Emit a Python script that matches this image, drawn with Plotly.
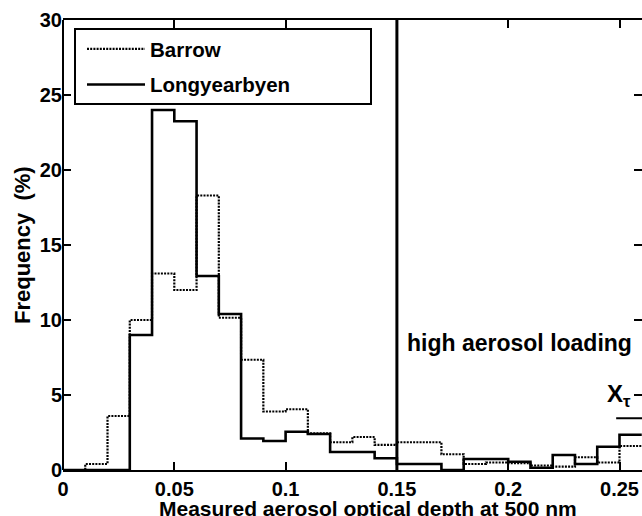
import plotly.graph_objects as go

bin_width = 0.01
bin_starts = [round(i * bin_width, 2) for i in range(26)]
barrow = [0, 0.4, 3.6, 10.0, 13.1, 12.0, 18.3, 10.15, 7.35, 3.9, 4.05, 2.45, 1.85, 2.2, 1.67,
          1.85, 1.85, 1.05, 0.4, 0.5, 0.45, 0.3, 0.22, 0.85, 0.5, 1.6]
longyearbyen = [0, 0, 0, 9.0, 24.0, 23.25, 12.93, 10.4, 2.1, 1.93, 2.55, 2.4, 1.2, 1.2, 0.78,
                0.4, 0.4, 0, 0.73, 0.73, 0.55, 0.15, 1.0, 0.4, 1.55, 2.35]
x_ticks = [0, 0.05, 0.1, 0.15, 0.2, 0.25]
x_tick_labels = ["0", "0.05", "0.1", "0.15", "0.2", "0.25"]
y_ticks = [0, 5, 10, 15, 20, 25, 30]
y_tick_labels = ["0", "5", "10", "15", "20", "25", "30"]
threshold = 0.15
x_tau_level = 3.45

FONT = "Liberation Sans"


def steps(starts, vals, w):
    xs = list(starts) + [starts[-1] + w]
    ys = list(vals) + [vals[-1]]
    return xs, ys


fig = go.Figure()
bx, by = steps(bin_starts, barrow, bin_width)
lx, ly = steps(bin_starts, longyearbyen, bin_width)
fig.add_trace(go.Scatter(x=bx, y=by, mode="lines", line_shape="hv", name="<b>Barrow</b>",
                         legendgroup="a",
                         line=dict(color="black", width=2.2, dash="2px,1.2px")))
fig.add_trace(go.Scatter(x=lx, y=ly, mode="lines", line_shape="hv", name="<b>Longyearbyen</b>",
                         legendgroup="b",
                         line=dict(color="black", width=2.6)))

W, H = 642, 516
ml, mr, mt, mb = 63, 0, 20, 46
pw = W - ml - mr
x_max = pw / 2226.0

fig.update_layout(
    width=W, height=H,
    margin=dict(l=ml, r=mr, t=mt, b=mb),
    paper_bgcolor="white", plot_bgcolor="white",
    font=dict(family=FONT, color="black", size=20),
    showlegend=True,
    legend=dict(x=(82 - ml) / pw, y=1 - (29 - mt) / 450.0, xanchor="left", yanchor="top",
                bgcolor="rgba(0,0,0,0)", borderwidth=0, itemwidth=58,
                font=dict(family=FONT, size=20.5, color="black"),
                traceorder="grouped", tracegroupgap=6),
    xaxis=dict(range=[0, x_max], tickvals=x_ticks, ticktext=["<b>%s</b>" % t for t in x_tick_labels],
               ticks="inside", ticklen=8, tickwidth=2, tickcolor="black",
               showline=True, linewidth=2, linecolor="black", mirror="ticks",
               showgrid=False, zeroline=False,
               tickfont=dict(family=FONT, size=20, color="black")),
    yaxis=dict(range=[0, 30], tickvals=y_ticks, ticktext=["<b>%s</b>" % t for t in y_tick_labels],
               ticks="inside", ticklen=8, tickwidth=2, tickcolor="black",
               showline=False, mirror="ticks",
               showgrid=False, zeroline=False,
               tickfont=dict(family=FONT, size=20, color="black")),
)

# left frame line
fig.add_shape(type="line", xref="paper", yref="paper", x0=0, x1=0, y0=0, y1=1,
              line=dict(color="black", width=2))
# legend box
fig.add_shape(type="rect", xref="paper", yref="paper",
              x0=(75 - ml) / pw, x1=(371 - ml) / pw,
              y0=(470 - 104) / 450.0, y1=(470 - 29) / 450.0,
              line=dict(color="black", width=2), fillcolor="rgba(0,0,0,0)")
# threshold line
fig.add_shape(type="line", xref="x", yref="y", x0=threshold, x1=threshold, y0=0, y1=30,
              line=dict(color="black", width=3))
# X_tau bar
fig.add_shape(type="line", xref="x", yref="y", x0=0.2485, x1=x_max, y0=x_tau_level, y1=x_tau_level,
              line=dict(color="black", width=2))

fig.add_annotation(text="<b>high aerosol loading</b>", x=0.1535, y=8.5, xref="x", yref="y",
                   xanchor="left", yanchor="middle", showarrow=False,
                   font=dict(family=FONT, size=23, color="black"))
fig.add_annotation(text="<b>X<sub>τ</sub></b>", x=0.2435, y=5.0, xref="x", yref="y",
                   xanchor="left", yanchor="middle", showarrow=False,
                   font=dict(family=FONT, size=24, color="black"))
fig.add_annotation(text="<b>Measured aerosol optical depth at 500 nm</b>", x=(368 - ml) / pw,
                   y=-(494.5 - 470) / 450.0,
                   xref="paper", yref="paper", xanchor="center", yanchor="top", showarrow=False,
                   font=dict(family=FONT, size=21, color="black"))
fig.add_annotation(text="<b>Frequency\u00a0\u00a0(%)</b>", x=-(63 - 22) / pw, y=0.5, xref="paper", yref="paper",
                   xanchor="center", yanchor="middle", showarrow=False, textangle=-90,
                   font=dict(family=FONT, size=22, color="black"))

fig.write_html("out.html")
